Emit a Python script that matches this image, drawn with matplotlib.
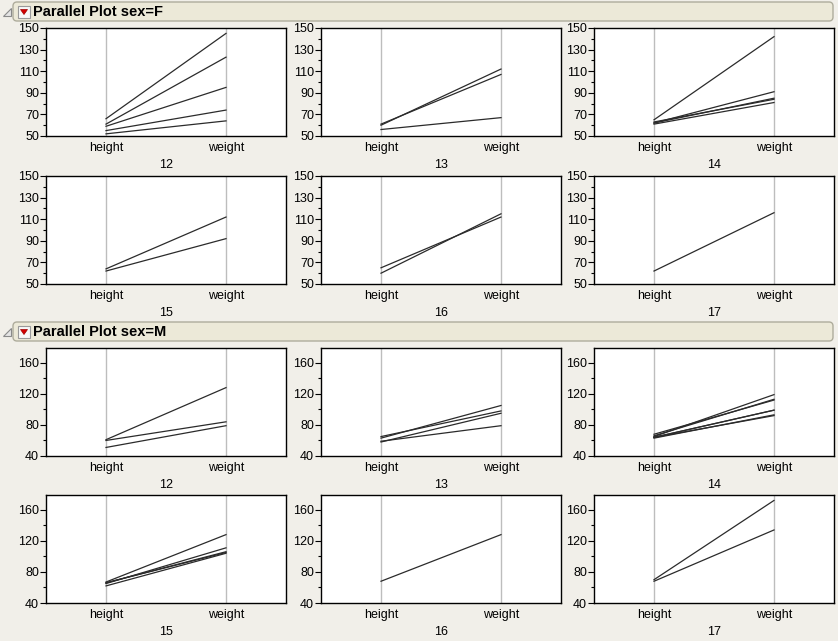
import matplotlib
matplotlib.use('Agg')
import matplotlib.pyplot as plt
from matplotlib.patches import FancyBboxPatch, Polygon, Rectangle

# Big Class data, split by sex
ages = [12, 13, 14, 15, 16, 17]
f_age = [12, 12, 12, 12, 12, 13, 13, 13, 14, 14, 14, 14, 14, 15, 15, 16, 16, 17]
f_height = [59, 61, 55, 66, 52, 60, 61, 56, 61, 62, 65, 63, 62, 62, 64, 65, 60, 62]
f_weight = [95, 123, 74, 145, 64, 112, 107, 67, 81, 91, 142, 84, 85, 92, 112, 112, 115, 116]
m_age = [12, 12, 12, 13, 13, 13, 13, 14, 14, 14, 14, 14, 14, 14, 15, 15, 15, 15, 15, 16, 17, 17]
m_height = [60, 61, 51, 65, 63, 58, 59, 63, 64, 65, 64, 68, 64, 66, 67, 65, 66, 62, 66, 68, 68, 70]
m_weight = [84, 128, 79, 98, 105, 95, 79, 93, 99, 119, 92, 112, 99, 113, 128, 111, 105, 104, 106, 128, 134, 172]
columns = ['height', 'weight']

f_major = [50, 70, 90, 110, 130, 150]
f_minor = [60, 80, 100, 120, 140]
m_major = [40, 80, 120, 160]
m_minor = [60, 100, 140]

W, H = 838, 641
plt.rcParams['font.family'] = ['Liberation Sans', 'DejaVu Sans']
fig = plt.figure(figsize=(W / 100, H / 100), dpi=100, facecolor='#f1efe9')

# overlay in pixel coords for the header bars
ov = fig.add_axes([0, 0, 1, 1], zorder=-1)
ov.set_xlim(0, W)
ov.set_ylim(H, 0)
ov.axis('off')


def header(y, title):
    ov.add_patch(FancyBboxPatch((13, y), 820, 19, boxstyle='round,pad=0,rounding_size=4',
                                fc='#ece9d8', ec='#aeac9c', lw=1))
    ov.add_patch(Polygon([(11, y + 6), (11, y + 14), (3, y + 14)], closed=True,
                         fc='#e4e4e4', ec='#8a8a8a', lw=0.8))
    ov.add_patch(Rectangle((18, y + 4), 12, 12, fc='#f8f8f8', ec='#9a9a9a', lw=0.8))
    ov.add_patch(Polygon([(20.5, y + 7.5), (27.5, y + 7.5), (24, y + 12.5)], closed=True,
                         fc='#d40000', ec='#a00000', lw=0.5))
    ov.text(33, y + 10, title, fontsize=10.5, fontweight='bold', va='center', ha='left')


def px_axes(left, top, w=240, h=108):
    return fig.add_axes([left / W, 1 - (top + h) / H, w / W, h / H])


def panel(ax, hts, wts, age, ylim, major, minor):
    ax.set_facecolor('white')
    ax.set_xlim(-0.5, 1.5)
    ax.set_ylim(*ylim)
    for x in (0, 1):
        ax.axvline(x, color='#bdbdbd', lw=1, zorder=1)
    for hv, wv in zip(hts, wts):
        ax.plot([0, 1], [hv, wv], color='#2b2b2b', lw=0.9, zorder=2)
    ax.set_xticks([0, 1], columns)
    ax.set_yticks(major)
    ax.set_yticks(minor, minor=True)
    ax.tick_params(axis='x', length=0, pad=4, labelsize=9)
    ax.tick_params(axis='y', which='major', length=4, width=0.8, pad=1, labelsize=9)
    ax.tick_params(axis='y', which='minor', length=2.5, width=0.8)
    ax.set_xlabel(str(age), fontsize=9, labelpad=4)
    for s in ax.spines.values():
        s.set_linewidth(1)
        s.set_color('black')


lefts = [46, 321, 594]
groups = [
    ('F', f_age, f_height, f_weight, (50, 150), f_major, f_minor, 2, [28, 176]),
    ('M', m_age, m_height, m_weight, (40, 179), m_major, m_minor, 322, [348, 495]),
]

for sex, ag, hs, ws, ylim, major, minor, hy, tops in groups:
    header(hy, 'Parallel Plot sex=' + sex)
    for i, age in enumerate(ages):
        ax = px_axes(lefts[i % 3], tops[i // 3])
        hts = [h for a, h in zip(ag, hs) if a == age]
        wts = [w for a, w in zip(ag, ws) if a == age]
        panel(ax, hts, wts, age, ylim, major, minor)

fig.savefig('out.png', dpi=100, facecolor=fig.get_facecolor())
